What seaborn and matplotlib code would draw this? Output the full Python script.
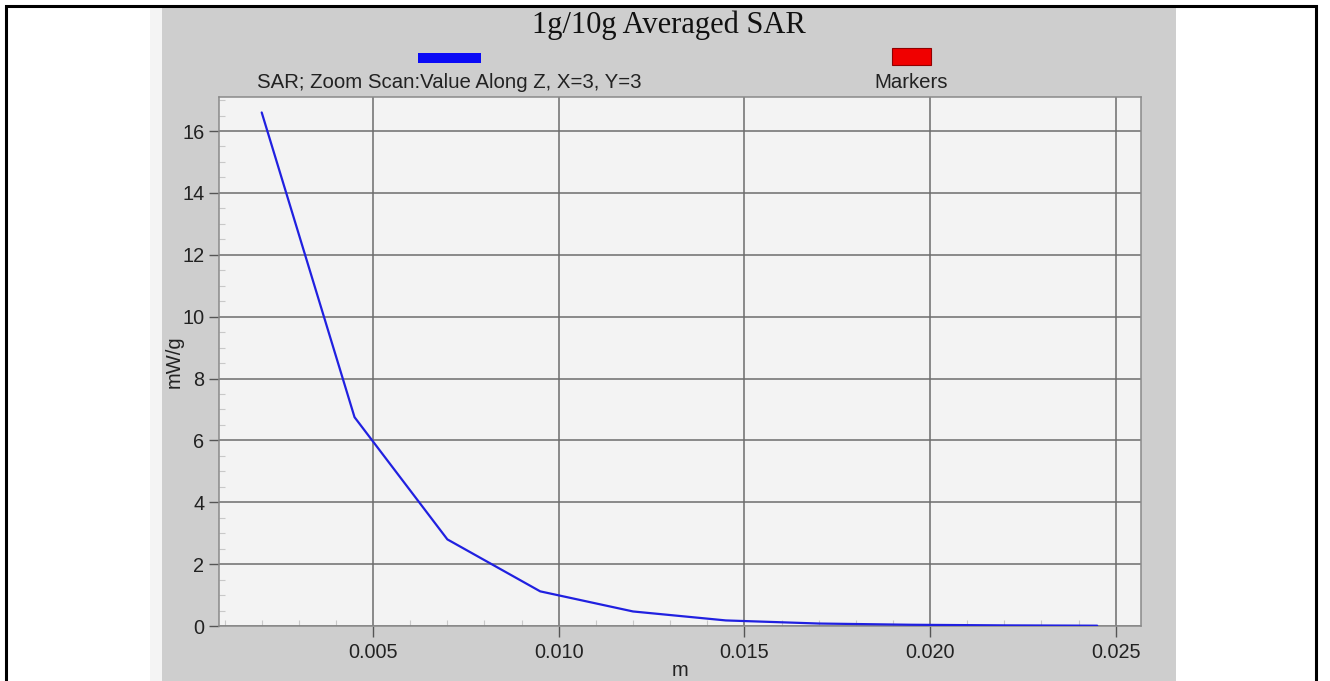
import matplotlib
matplotlib.use("Agg")
import matplotlib.pyplot as plt
from matplotlib.patches import Rectangle
from matplotlib.ticker import MultipleLocator, FormatStrFormatter, FixedLocator
import pandas as pd
import seaborn as sns

# SAR profile along Z (zoom scan at X=3, Y=3)
depth_m = [0.002, 0.0045, 0.007, 0.0095, 0.012, 0.0145, 0.017, 0.0195, 0.022, 0.0245]
sar_mw_g = [16.6, 6.75, 2.8, 1.12, 0.47, 0.18, 0.08, 0.04, 0.02, 0.01]

x_ticks = [0.005, 0.010, 0.015, 0.020, 0.025]
y_ticks = [0, 2, 4, 6, 8, 10, 12, 14, 16]

title_text = "1g/10g Averaged SAR"
series_label = "SAR; Zoom Scan:Value Along Z, X=3, Y=3"
marker_label = "Markers"
x_label = "m"
y_label = "mW/g"

sns.set_style("white")
plt.rcParams["font.family"] = ["Liberation Sans", "DejaVu Sans"]

W, H = 1330, 681
fig = plt.figure(figsize=(W / 100, H / 100), dpi=100)
fig.patch.set_facecolor("white")


def fx(px):
    return px / W


def fy(py):
    return 1 - py / H


# grey chart panel
fig.add_artist(Rectangle((fx(150), 0), fx(12), fy(7), transform=fig.transFigure,
                         facecolor="#f4f4f4", edgecolor="none", zorder=0))
fig.add_artist(Rectangle((fx(162), 0), fx(1176 - 162), fy(7), transform=fig.transFigure,
                         facecolor="#cecece", edgecolor="none", zorder=0))
# outer page frame
fig.add_artist(Rectangle((fx(6), -0.05), fx(1315.5 - 6), fy(6) + 0.05, transform=fig.transFigure,
                         facecolor="none", edgecolor="black", linewidth=2.2, zorder=5))

ax = fig.add_axes([fx(219), fy(626), fx(1141 - 219), (626 - 97) / H])
ax.set_facecolor("#f3f3f3")

df = pd.DataFrame({"depth": depth_m, "sar": sar_mw_g})
sns.lineplot(data=df, x="depth", y="sar", ax=ax, color="#2020e0", linewidth=1.6, zorder=3)

ax.set_xlim(0.00085, 0.02568)
ax.set_ylim(0, 17.1)
ax.xaxis.set_major_locator(FixedLocator(x_ticks))
ax.xaxis.set_major_formatter(FormatStrFormatter("%.3f"))
ax.xaxis.set_minor_locator(MultipleLocator(0.001))
ax.yaxis.set_major_locator(FixedLocator(y_ticks))
ax.yaxis.set_minor_locator(MultipleLocator(0.5))

ax.grid(True, which="major", color="#6c6c6c", linewidth=1.1)
ax.set_axisbelow(True)
for s in ax.spines.values():
    s.set_color("#8a8a8a")
    s.set_linewidth(1.1)

ax.tick_params(which="major", direction="out", length=7.5, width=1.0, color="#555555",
               labelsize=14.3, labelcolor="#222222", pad=3)
ax.tick_params(axis="x", which="major", length=8, pad=4)
ax.tick_params(which="minor", direction="in", length=4, width=0.8, color="#c8c8c8")
ax.tick_params(bottom=True, left=True, which="both")

ax.set_xlabel(x_label, fontsize=14.5, color="#222222")
ax.set_ylabel(y_label, fontsize=14.5, color="#222222")
ax.xaxis.set_label_coords(0.5, -0.066)
ax.yaxis.set_label_coords(-0.038, 0.5)

# title and legend strip
fig.text(fx(668.5), fy(33.5), title_text, family=["Liberation Serif", "DejaVu Serif"],
         fontsize=22, color="#111111", ha="center", va="baseline")
fig.add_artist(Rectangle((fx(418), fy(63)), fx(481 - 418), (63 - 53) / H,
                         transform=fig.transFigure, facecolor="#0a0af5", edgecolor="none"))
fig.add_artist(Rectangle((fx(892), fy(65)), fx(931 - 892), (65 - 48) / H,
                         transform=fig.transFigure, facecolor="#f00000",
                         edgecolor="#900000", linewidth=0.8))
fig.text(fx(257), fy(88), series_label, fontsize=14.7, color="#222222",
         ha="left", va="baseline")
fig.text(fx(911.5), fy(88), marker_label, fontsize=14.7, color="#222222",
         ha="center", va="baseline")

fig.savefig("out.png", dpi=100, facecolor=fig.get_facecolor())
